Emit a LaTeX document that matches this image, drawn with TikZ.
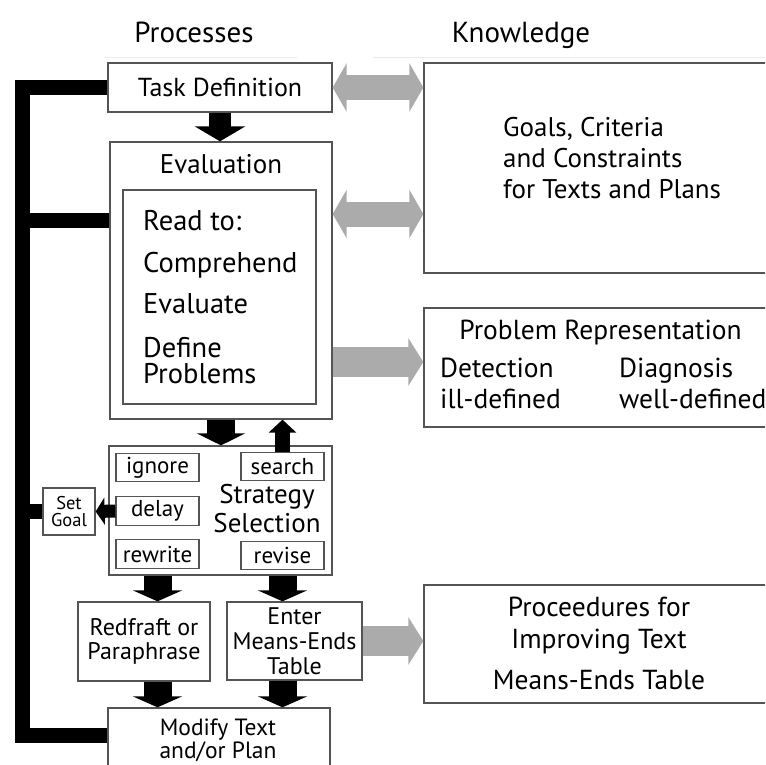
\documentclass[tikz,border=0pt]{standalone}
\usepackage{fontspec}
\setmainfont{PT Sans}
\usetikzlibrary{arrows.meta}
\definecolor{boxline}{gray}{0.33}
\definecolor{linkgray}{gray}{0.67}
\definecolor{rulegray}{gray}{0.92}
\begin{document}
\begin{tikzpicture}[x=1pt,y=-1pt,
  box/.style={draw=boxline, line width=1.3pt, fill=white, inner sep=0pt, align=center},
  lbl/.style={inner sep=0pt, anchor=base},
  lbll/.style={inner sep=0pt, anchor=base west},
  heading/.style={lbl, font=\fontsize{29}{29}\selectfont},
  flowarrow/.style n args={3}{draw=black, line width=#1, -{Triangle[width=#2, length=#3]}},
  linkboth/.style={draw=linkgray, line width=25pt, {Triangle[width=48pt, length=14pt]}-{Triangle[width=48pt, length=14pt]}},
  linkone/.style={draw=linkgray, line width=30pt, -{Triangle[width=47pt, length=15pt]}},
  feedback/.style={draw=black, line width=15pt, line join=miter},
  ]
\useasboundingbox (0,0) rectangle (765,765);
\clip (0,0) rectangle (765,765);

% column headings
\node[heading] (hproc) at (194,43) {Processes};
\node[heading] (hknow) at (521,43) {Knowledge};
\draw[rulegray, line width=0.8pt] (105,57) -- (297,57);
\draw[rulegray, line width=0.8pt] (373,57) -- (765,57);

% ---- process column ----
\node[box, minimum width=224, minimum height=49, font=\fontsize{26}{26}\selectfont] (task) at (220,87.5) {Task Definition};

\node[box, minimum width=222, minimum height=277] (eval) at (221,280.5) {};
\node[lbl, font=\fontsize{27}{27}\selectfont] (evallbl) at (221,173) {Evaluation};
\node[box, minimum width=193, minimum height=214] (inner) at (219.5,297) {};
\begin{scope}[font=\fontsize{28.5}{28.5}\selectfont]
  \node[lbll] (rd1) at (143,230) {Read to:};
  \node[lbll] (rd2) at (143,272) {Comprehend};
  \node[lbll] (rd3) at (143,313) {Evaluate};
  \node[lbll] (rd4) at (143,357) {Define};
  \node[lbll] (rd5) at (143,383) {Problems};
\end{scope}

\node[box, minimum width=223, minimum height=129] (strat) at (220.5,510.5) {};
\node[lbl, font=\fontsize{27}{27}\selectfont] (strat1) at (267,503) {Strategy};
\node[lbl, font=\fontsize{27}{27}\selectfont] (strat2) at (267,532) {Selection};
\begin{scope}[every node/.append style={box, minimum width=83, minimum height=28.5, font=\fontsize{23}{23}\selectfont}]
  \node (ignore)  at (157.5,467.5) {ignore};
  \node (search)  at (282.5,466.5) {search};
  \node (delay)   at (157.5,511)   {delay};
  \node (rewrite) at (157.5,554)   {rewrite};
  \node (revise)  at (282.5,555.5) {revise};
\end{scope}

\node[box, minimum width=52, minimum height=47, font=\fontsize{18.5}{17.5}\selectfont] (setgoal) at (69,511.5) {Set\\Goal};

\node[box, minimum width=132, minimum height=79, font=\fontsize{24}{24}\selectfont] (redraft) at (144,641.5) {Redfraft or\\Paraphrase};
\node[box, minimum width=135, minimum height=78, font=\fontsize{24}{25}\selectfont] (enter) at (294.5,641) {Enter\\Means-Ends\\Table};

\node[box, minimum width=222, minimum height=100] (modify) at (219,758) {};
\node[lbl, font=\fontsize{23.5}{23.5}\selectfont] (mod1) at (218,735) {Modify Text};
\node[lbl, font=\fontsize{23.5}{23.5}\selectfont] (mod2) at (218,758) {and/or Plan};

% ---- knowledge column ----
\node[box, minimum width=360, minimum height=210] (goals) at (604,168) {};
\begin{scope}[font=\fontsize{27}{27}\selectfont]
  \node[lbll] (g1) at (503,136) {Goals, Criteria};
  \node[lbll] (g2) at (503,167) {and Constraints};
  \node[lbll] (g3) at (503,198) {for Texts and Plans};
\end{scope}

\node[box, minimum width=360, minimum height=119] (probrep) at (604,367.5) {};
\begin{scope}[font=\fontsize{27.5}{27.5}\selectfont]
  \node[lbl] (p0) at (600.5,339) {Problem Representation};
  \node[lbll] (p1) at (440,377) {Detection};
  \node[lbll] (p2) at (440,408) {ill-defined};
  \node[lbll] (p3) at (619,377) {Diagnosis};
  \node[lbll] (p4) at (619,408) {well-defined};
\end{scope}

\node[box, minimum width=360, minimum height=118] (proced) at (604,644) {};
\begin{scope}[font=\fontsize{27.5}{27.5}\selectfont]
  \node[lbl] (c1) at (599,616) {Proceedures for};
  \node[lbl] (c2) at (599,648) {Improving Text};
  \node[lbl] (c3) at (599,689) {Means-Ends Table};
\end{scope}

% ---- feedback bars on the left ----
\coordinate (evalin) at (eval.west |- 0,220.5);
\draw[feedback] (task.west) -- (22,87.5) -- (22,735.5) -- (modify.west |- 0,735.5);
\draw[feedback] (22,220.5) -- (evalin);
\draw[feedback] (22,511.5) -- (setgoal.west);

% ---- flow arrows ----
\draw[flowarrow={22pt}{50pt}{15pt}] (task.south) -- (task.south |- eval.north);
\draw[flowarrow={28pt}{48pt}{12pt}] (eval.south) -- (eval.south |- strat.north);
\draw[flowarrow={15pt}{27pt}{13pt}] (search.north) -- (search.north |- eval.south);
\draw[flowarrow={13pt}{27pt}{9pt}] (delay.west) -- (setgoal.east);
\draw[flowarrow={28pt}{49pt}{11pt}] (rewrite.south |- strat.south) -- (rewrite.south |- redraft.north);
\draw[flowarrow={28pt}{49pt}{11pt}] (revise.south |- strat.south) -- (revise.south |- enter.north);
\draw[flowarrow={28pt}{49pt}{11pt}] (rewrite.south |- redraft.south) -- (rewrite.south |- modify.north);
\draw[flowarrow={28pt}{49pt}{11pt}] (revise.south |- enter.south) -- (revise.south |- modify.north);

% ---- links to knowledge ----
\draw[linkboth] (task.east) -- (task.east -| goals.west);
\draw[linkboth] (eval.east |- 0,214) -- (goals.west |- 0,214);
\draw[linkone] (eval.east |- 0,362) -- (probrep.west |- 0,362);
\draw[linkone] (enter.east) -- (enter.east -| proced.west);
\end{tikzpicture}
\end{document}
